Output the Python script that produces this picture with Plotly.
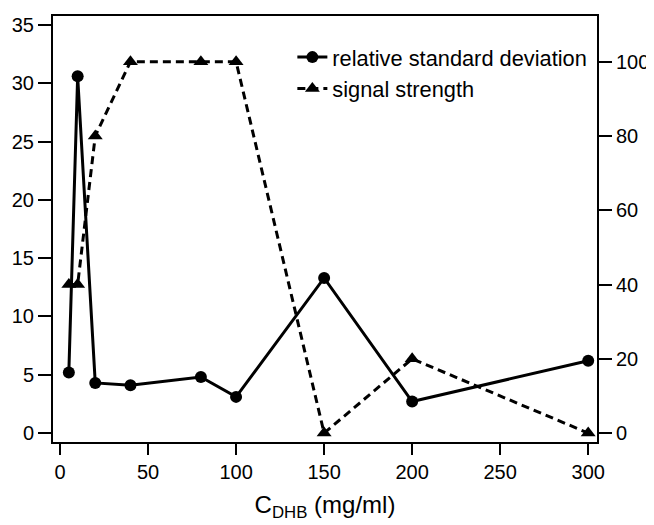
import plotly.graph_objects as go

conc = [5, 10, 20, 40, 80, 100, 150, 200, 300]
rsd = [5.2, 30.6, 4.3, 4.1, 4.8, 3.1, 13.3, 2.7, 6.2]
signal = [40, 40, 80, 100, 100, 100, 0, 20, 0]

x_ticks = [0, 50, 100, 150, 200, 250, 300]
y_ticks = [0, 5, 10, 15, 20, 25, 30, 35]
y2_ticks = [0, 20, 40, 60, 80, 100]

FONT = "Liberation Sans, Arial, sans-serif"

fig = go.Figure()
fig.add_trace(go.Scatter(
    x=conc, y=rsd, name="relative standard deviation",
    mode="lines+markers",
    line=dict(color="black", width=3),
    marker=dict(symbol="circle", size=12, color="black"),
    yaxis="y",
))
fig.add_trace(go.Scatter(
    x=conc, y=signal, name="signal strength",
    mode="lines+markers",
    line=dict(color="black", width=3, dash="8px,5px"),
    marker=dict(symbol="triangle-up", size=13, color="black"),
    yaxis="y2",
))

axis_common = dict(
    showline=True, linecolor="black", linewidth=2,
    ticks="outside", tickwidth=2, tickcolor="black",
    showgrid=False, zeroline=False, automargin=False,
    tickfont=dict(family=FONT, size=20, color="black"),
)

# page body has an 8px default margin, so the figure is 8px smaller
fig.update_layout(
    width=646, height=517,
    margin=dict(l=45, r=57, t=8, b=83),
    paper_bgcolor="white", plot_bgcolor="white",
    font=dict(family=FONT, color="black"),
    showlegend=True,
    legend=dict(
        x=0.44, y=0.952, xanchor="left", yanchor="top",
        bgcolor="rgba(0,0,0,0)",
        font=dict(family=FONT, size=21.8, color="black"),
        tracegroupgap=0, itemwidth=30,
    ),
    xaxis=dict(
        range=[-4, 305], tickvals=x_ticks, mirror=True, ticklen=11,
        title=dict(text="C<sub>DHB</sub> (mg/ml)",
                   font=dict(family=FONT, size=24, color="black"), standoff=14),
        **axis_common,
    ),
    yaxis=dict(
        range=[-0.77, 35.77], tickvals=y_ticks, ticklen=13,
        **axis_common,
    ),
    yaxis2=dict(
        range=[-2.4, 112.3], tickvals=y2_ticks, ticklen=13,
        overlaying="y", side="right",
        **axis_common,
    ),
)

fig.write_html("out.html")
